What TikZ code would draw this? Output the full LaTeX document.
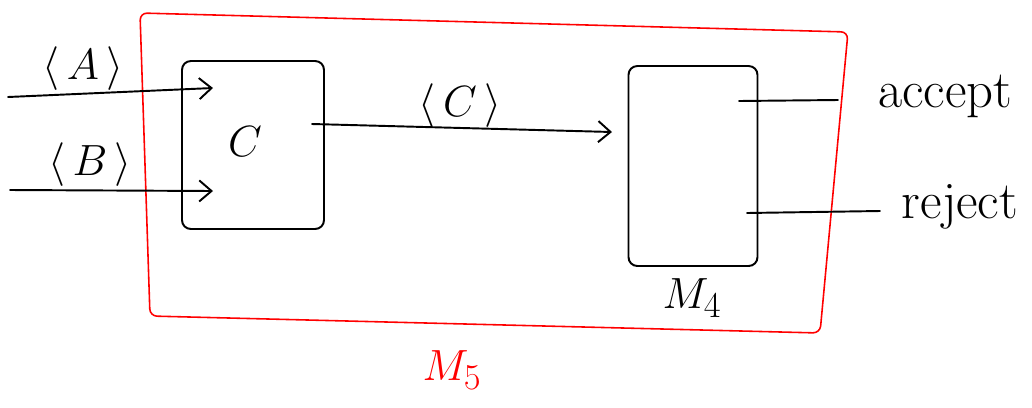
\documentclass[tikz,border=0pt]{standalone}
\usetikzlibrary{arrows.meta}
\begin{document}
\begin{tikzpicture}[x=0.02cm,y=-0.02cm,
  pen/.style={line width=1.1pt,line cap=round,line join=round},
  redpen/.style={draw=red,line width=0.9pt,rounded corners=4pt,line join=round},
  boxnode/.style={pen,draw,rounded corners=5pt,inner sep=0pt},
  arr/.style={pen,-{Straight Barb[length=7pt,width=12pt,line width=1.1pt]}},
  lbl/.style={font=\fontsize{25}{27}\selectfont,inner sep=0pt},
  big/.style={font=\fontsize{30}{32}\selectfont,inner sep=0pt},
  redlbl/.style={font=\fontsize{32}{34}\selectfont,text=red,inner sep=0pt}]
\useasboundingbox (0,0) rectangle (1032,407);
% outer red machine
\draw[redpen] (140,13) -- (848,32) -- (820,333) -- (150,316) -- cycle;
% boxes
\node[boxnode,minimum width=2.84cm,minimum height=3.36cm] (cbox) at (253,145) {};
\node[boxnode,minimum width=2.58cm,minimum height=4.0cm] (mbox) at (693,166) {};
\node[big] (clbl) at (245,142) {$C$};
\node[big] (mlbl) at (692,298) {$M_4$};
\node[redlbl] (m5) at (452,370) {$M_5$};
% inputs
\coordinate (ain) at (8,97);
\coordinate (aend) at (213,88);
\coordinate (bin) at (10,190);
\coordinate (bend) at (213,191);
\draw[arr] (ain) -- (aend);
\draw[arr] (bin) -- (bend);
\node[lbl] (alab) at (83,69) {$\langle\,A\,\rangle$};
\node[lbl] (blab) at (90,165) {$\langle\,B\,\rangle$};
% C to M4
\coordinate (cout) at (312,124);
\coordinate (cend) at (612,132);
\draw[arr] (cout) -- (cend);
\node[lbl] (clab) at (460,106) {$\langle\,C\,\rangle$};
% outputs
\coordinate (acc0) at (739,101);
\coordinate (acc1) at (838,100);
\coordinate (rej0) at (747,213);
\coordinate (rej1) at (880,211);
\draw[pen] (acc0) -- (acc1);
\draw[pen] (rej0) -- (rej1);
\node[big,anchor=base] (accept) at (945,107) {accept};
\node[big,anchor=base] (reject) at (960,218) {reject};
\end{tikzpicture}
\end{document}
